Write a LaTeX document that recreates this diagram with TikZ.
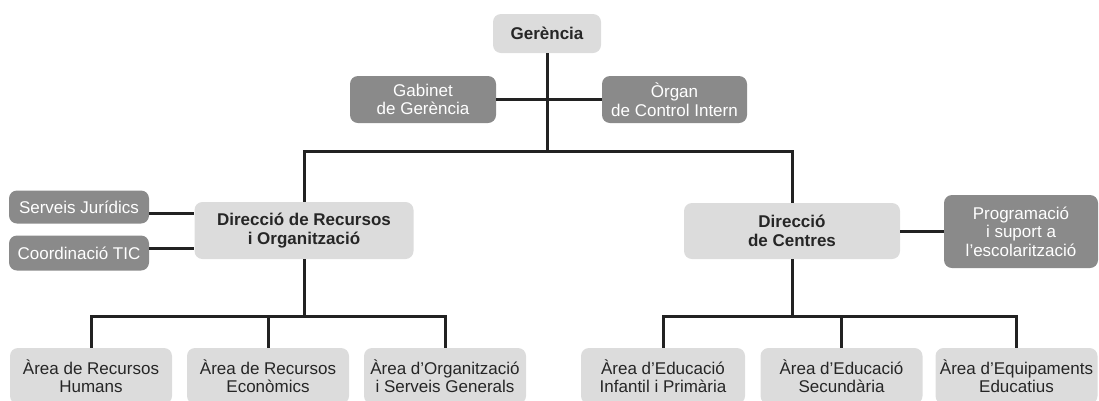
\documentclass[tikz,border=0pt]{standalone}
\usepackage{fontspec}
\setmainfont{Liberation Sans}
\definecolor{boxlight}{HTML}{DCDCDC}
\definecolor{boxdark}{HTML}{8A8A8A}
\definecolor{linecol}{HTML}{222222}
\begin{document}
\begin{tikzpicture}[x=1pt, y=-1pt,
    box/.style={rounded corners=8pt, inner sep=0pt, align=center, font=\fontsize{17}{18.5}\selectfont},
    light/.style={box, fill=boxlight, text=black!85},
    dark/.style={box, fill=boxdark, text=white},
    head/.style={light, font=\fontsize{17}{19.5}\selectfont\bfseries},
    area/.style={light, minimum width=162pt, minimum height=56pt},
    link/.style={draw=linecol, line width=3pt}]
    \useasboundingbox (0,0) rectangle (1099,400);
    \node[head, minimum width=108pt, minimum height=39pt] (ger) at (547,33.5) {Gerència};
    \node[dark, minimum width=146pt, minimum height=47pt] (gab) at (423,99.5) {Gabinet\\de Gerència};
    \node[dark, minimum width=145pt, minimum height=47pt] (org) at (674.5,99.5) {Òrgan\\de Control Intern};
    \node[head, minimum width=219pt, minimum height=57pt] (dro) at (304,230.5) {Direcció de Recursos\\i Organització};
    \node[head, minimum width=216pt, minimum height=56pt] (dce) at (792,231) {Direcció\\de Centres};
    \node[dark, minimum width=140pt, minimum height=33pt] (sju) at (79,207) {Serveis Jurídics};
    \node[dark, minimum width=140pt, minimum height=35pt] (cti) at (79,253) {Coordinació TIC};
    \node[dark, minimum width=154pt, minimum height=73pt] (pro) at (1021,231.5) {Programació\\i suport a\\l'escolarització};
    \node[area] (arh) at (91,376) {Àrea de Recursos\\Humans};
    \node[area] (are) at (268,376) {Àrea de Recursos\\Econòmics};
    \node[area] (aog) at (445,376) {Àrea d’Organització\\i Serveis Generals};
    \node[area, minimum width=164pt] (aei) at (663,376) {Àrea d’Educació\\Infantil i Primària};
    \node[area] (aes) at (841.5,376) {Àrea d’Educació\\Secundària};
    \node[area] (aeq) at (1016.5,376) {Àrea d’Equipaments\\Educatius};
    \coordinate (topbar) at (547,151);
    \coordinate (lbar) at (304,316);
    \coordinate (rbar) at (792,316);
    \draw[link] (ger.south) -- (topbar);
    \draw[link] (gab.east) -- (org.west);
    \draw[link] (dro.north) |- (topbar) -| (dce.north);
    \draw[link] ([yshift=-6pt]sju.east) -- ([yshift=-6pt]sju.east -| dro.west);
    \draw[link] ([yshift=5pt]cti.east) -- ([yshift=5pt]cti.east -| dro.west);
    \draw[link] (dce.east) -- (dce.east -| pro.west);
    \draw[link] (dro.south) -- (lbar);
    \draw[link] (arh.north) |- (lbar) -| (aog.north);
    \draw[link] (are.north) -- (are.north |- lbar);
    \draw[link] (dce.south) -- (rbar);
    \draw[link] (aei.north) |- (rbar) -| (aeq.north);
    \draw[link] (aes.north) -- (aes.north |- rbar);
\end{tikzpicture}
\end{document}
